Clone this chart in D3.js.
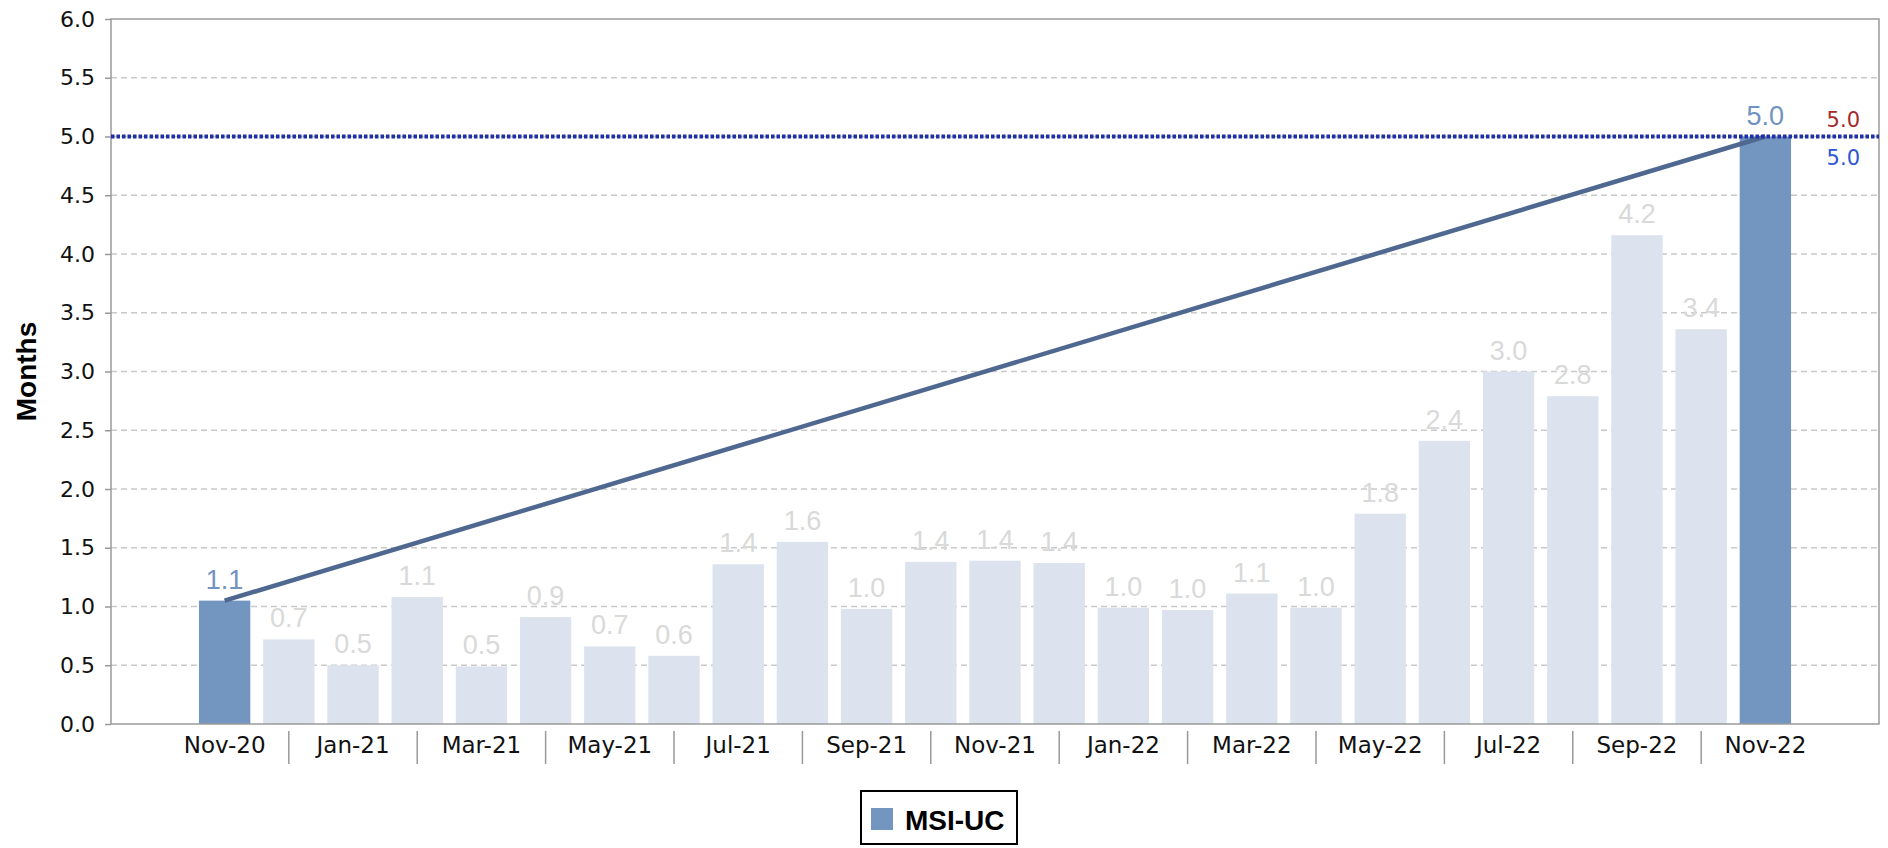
<!DOCTYPE html>
<html>

<head>
  <meta charset="utf-8">
  <style>
    body {
      margin: 0;
      background: #ffffff;
    }

    text {
      font-family: 'Liberation Sans', Arial, sans-serif;
    }

    .grid line {
      stroke: #c9c9c9;
      stroke-width: 1.5px;
      stroke-dasharray: 6, 4;
    }

    .tick-label {
      font-family: 'DejaVu Sans', sans-serif;
      fill: #111111;
    }
  </style>
</head>

<body>
  <div id="chart"></div>
  <script src="https://cdn.jsdelivr.net/npm/d3@7"></script>
  <script>
    // months shown on the x axis
    var months = ['Nov-20', 'Dec-20', 'Jan-21', 'Feb-21', 'Mar-21', 'Apr-21', 'May-21', 'Jun-21',
      'Jul-21', 'Aug-21', 'Sep-21', 'Oct-21', 'Nov-21', 'Dec-21', 'Jan-22', 'Feb-22',
      'Mar-22', 'Apr-22', 'May-22', 'Jun-22', 'Jul-22', 'Aug-22', 'Sep-22', 'Oct-22', 'Nov-22'];
    // MSI-UC months of supply
    var msiValues = [1.05, 0.72, 0.50, 1.08, 0.49, 0.91, 0.66, 0.58,
      1.36, 1.55, 0.98, 1.38, 1.39, 1.37, 0.99, 0.97,
      1.11, 0.99, 1.79, 2.41, 3.00, 2.79, 4.16, 3.36, 5.00];
    var highlighted = ['Nov-20', 'Nov-22'];
    var yTicks = [0, 0.5, 1, 1.5, 2, 2.5, 3, 3.5, 4, 4.5, 5, 5.5, 6];
    var refValue = 5.0;
    var refLabels = [5.0, 5.0];
    var seriesName = 'MSI-UC';
    var yTitle = 'Months';

    var width = 1888;
    var height = 848;
    var plotLeft = 111, plotRight = 1879, plotTop = 19, plotBottom = 724;

    var svg = d3.select('#chart').append('svg')
      .attr('width', width)
      .attr('height', height);

    var x = d3.scaleBand()
      .domain(months)
      .range([plotLeft, plotRight])
      .paddingInner(0.2)
      .paddingOuter(1.37);

    var y = d3.scaleLinear()
      .domain([0, 6])
      .range([plotBottom, plotTop]);

    // dashed grid
    svg.append('g')
      .attr('class', 'grid')
      .selectAll('line')
      .data(yTicks.filter(function (t) { return t > 0 && t < 6; }))
      .enter()
      .append('line')
      .attr('x1', plotLeft)
      .attr('x2', plotRight)
      .attr('y1', function (d) { return y(d); })
      .attr('y2', function (d) { return y(d); });

    // y axis
    var yAxis = svg.append('g')
      .attr('transform', 'translate(' + plotLeft + ',0)')
      .call(d3.axisLeft(y).tickValues(yTicks).tickSize(6).tickPadding(10)
        .tickFormat(d3.format('.1f')));
    yAxis.select('.domain').remove();
    yAxis.selectAll('line').attr('stroke', '#999999').attr('stroke-width', 1.5);
    yAxis.selectAll('text')
      .attr('class', 'tick-label')
      .attr('fill', '#111111')
      .style('font-size', '22px')
      .style('font-family', "'DejaVu Sans', sans-serif");

    // bars
    svg.append('g')
      .selectAll('rect')
      .data(months)
      .enter()
      .append('rect')
      .attr('x', function (d) { return x(d); })
      .attr('width', x.bandwidth())
      .attr('y', function (d, i) { return y(msiValues[i]); })
      .attr('height', function (d, i) { return y(0) - y(msiValues[i]); })
      .attr('fill', function (d) { return highlighted.indexOf(d) >= 0 ? '#7396c1' : '#dce3ee'; });

    // value labels
    svg.append('g')
      .selectAll('text')
      .data(months)
      .enter()
      .append('text')
      .attr('x', function (d) { return x(d) + x.bandwidth() / 2; })
      .attr('y', function (d, i) { return y(msiValues[i]) - 12; })
      .attr('text-anchor', 'middle')
      .style('font-size', '27px')
      .attr('fill', function (d) { return highlighted.indexOf(d) >= 0 ? '#7193c2' : '#d9d9d9'; })
      .text(function (d, i) { return msiValues[i].toFixed(1); });

    // trend line from first to last month
    var first = 0, last = months.length - 1;
    svg.append('line')
      .attr('x1', x(months[first]) + x.bandwidth() / 2)
      .attr('y1', y(msiValues[first]))
      .attr('x2', x(months[last]) + x.bandwidth() / 2)
      .attr('y2', y(msiValues[last]))
      .attr('stroke', '#4f6890')
      .attr('stroke-width', 4.5);

    // plot frame
    svg.append('rect')
      .attr('x', plotLeft)
      .attr('y', plotTop)
      .attr('width', plotRight - plotLeft)
      .attr('height', plotBottom - plotTop)
      .attr('fill', 'none')
      .attr('stroke', '#9a9a9a')
      .attr('stroke-width', 1.5);

    // reference line
    svg.append('line')
      .attr('x1', plotLeft)
      .attr('x2', plotRight)
      .attr('y1', y(refValue))
      .attr('y2', y(refValue))
      .attr('stroke', '#1f2fa6')
      .attr('stroke-width', 4)
      .attr('stroke-dasharray', '3.5,2');

    svg.append('text')
      .attr('x', plotRight - 19)
      .attr('y', y(refValue) - 10)
      .attr('text-anchor', 'end')
      .style('font-size', '21px')
      .style('font-family', "'DejaVu Sans', sans-serif")
      .attr('fill', '#a52a2a')
      .text(refLabels[0].toFixed(1));

    svg.append('text')
      .attr('x', plotRight - 19)
      .attr('y', y(refValue) + 28)
      .attr('text-anchor', 'end')
      .style('font-size', '21px')
      .style('font-family', "'DejaVu Sans', sans-serif")
      .attr('fill', '#2e55d3')
      .text(refLabels[1].toFixed(1));

    // x axis labels every second month, separators in between
    var xg = svg.append('g');
    xg.selectAll('text')
      .data(months.filter(function (d, i) { return i % 2 === 0; }))
      .enter()
      .append('text')
      .attr('class', 'tick-label')
      .attr('x', function (d) { return x(d) + x.bandwidth() / 2; })
      .attr('y', 753)
      .attr('text-anchor', 'middle')
      .style('font-size', '23px')
      .text(function (d) { return d; });
    xg.selectAll('line')
      .data(months.filter(function (d, i) { return i % 2 === 1; }))
      .enter()
      .append('line')
      .attr('x1', function (d) { return x(d) + x.bandwidth() / 2; })
      .attr('x2', function (d) { return x(d) + x.bandwidth() / 2; })
      .attr('y1', 731)
      .attr('y2', 764)
      .attr('stroke', '#999999')
      .attr('stroke-width', 1.5);

    // y title
    svg.append('text')
      .attr('transform', 'translate(36,' + ((plotTop + plotBottom) / 2) + ') rotate(-90)')
      .attr('text-anchor', 'middle')
      .style('font-size', '28px')
      .style('font-weight', 'bold')
      .attr('fill', '#000')
      .text(yTitle);

    // legend
    var legend = svg.append('g').attr('transform', 'translate(861,791)');
    legend.append('rect')
      .attr('width', 156)
      .attr('height', 53)
      .attr('fill', '#fff')
      .attr('stroke', '#000')
      .attr('stroke-width', 2);
    legend.append('rect')
      .attr('x', 10)
      .attr('y', 17)
      .attr('width', 22)
      .attr('height', 22)
      .attr('fill', '#7396c1');
    legend.append('text')
      .attr('x', 44)
      .attr('y', 39)
      .style('font-size', '28px')
      .style('font-weight', 'bold')
      .attr('fill', '#000')
      .text(seriesName);
  </script>
</body>

</html>
